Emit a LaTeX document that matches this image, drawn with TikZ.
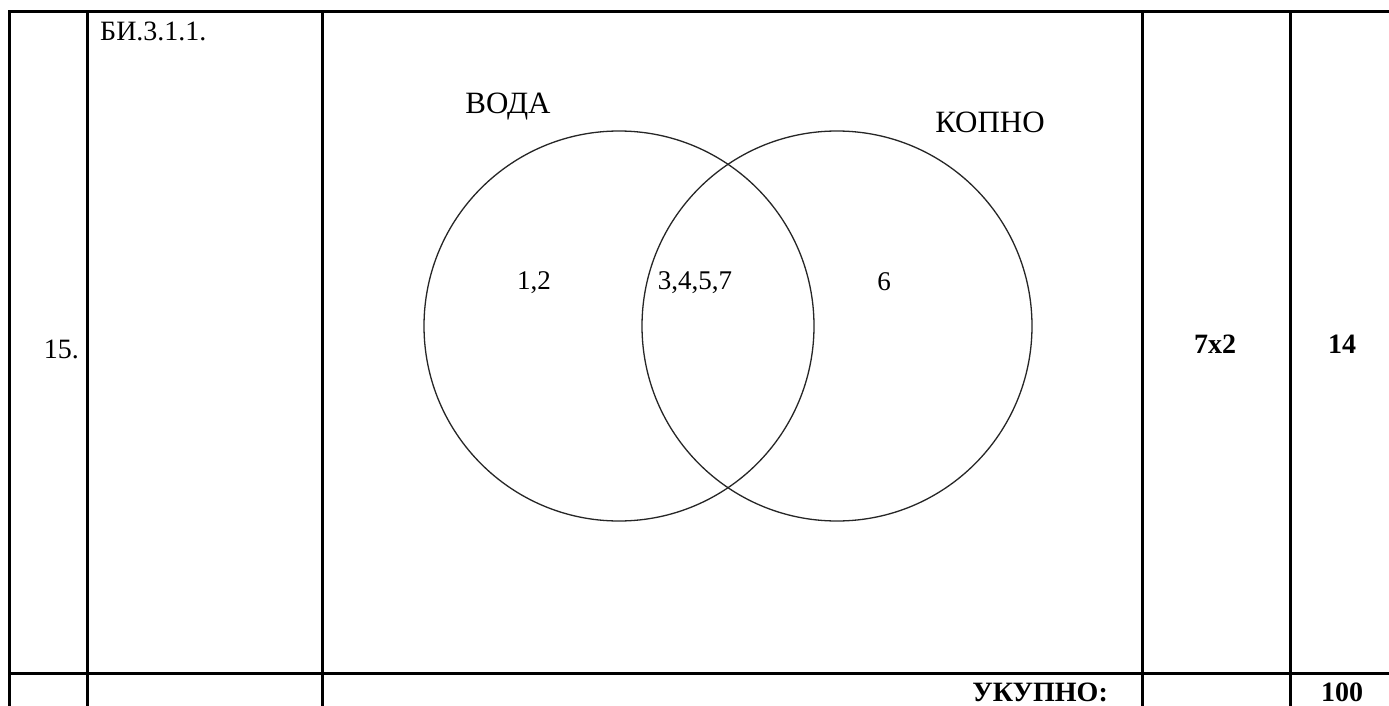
\documentclass[tikz,border=0pt]{standalone}
\usepackage{fontspec}
\setmainfont{Liberation Serif}
\begin{document}
\begin{tikzpicture}[x=1pt,y=-1pt,
  rule/.style={line width=3pt,black},
  venn/.style={circle,draw=black!85,line width=1.3pt,minimum size=390pt,inner sep=0pt},
  cell/.style={font=\fontsize{28}{32}\selectfont,inner sep=0pt},
  bcell/.style={font=\fontsize{28}{32}\selectfont\bfseries,inner sep=0pt},
  lab/.style={font=\fontsize{31}{35}\selectfont,inner sep=0pt},
  numlab/.style={font=\fontsize{27}{31}\selectfont,inner sep=0pt}]
\useasboundingbox (0,0) rectangle (1389,706);
\fill[white] (0,0) rectangle (1389,706);
% table rules
\draw[rule] (9.5,12) -- (1392,12);
\draw[rule] (9.5,673.5) -- (1392,673.5);
\foreach \x in {9.5,87,322,1142,1290} \draw[rule] (\x,10.5) -- (\x,710);
% cells
\node[cell,anchor=west] (code) at (100,31) {БИ.3.1.1.};
\node[cell,anchor=east] (num) at (79,349) {15.};
\node[bcell] (pts) at (1215,344) {7x2};
\node[bcell] (tot) at (1342,344) {14};
\node[bcell,anchor=east] (sum) at (1108,692) {УКУПНО:};
\node[bcell] (hund) at (1342,692) {100};
% venn
\node[venn] (voda) at (619,326) {};
\node[venn] (kopno) at (837,326) {};
\node[lab] (lvoda) at (508,107) {ВОДА};
\node[lab] (lkopno) at (990,122) {КОПНО};
\node[numlab] (a) at (534,283) {1,2};
\node[numlab] (b) at (695,283) {3,4,5,7};
\node[numlab] (c) at (884,282) {6};
\end{tikzpicture}
\end{document}
